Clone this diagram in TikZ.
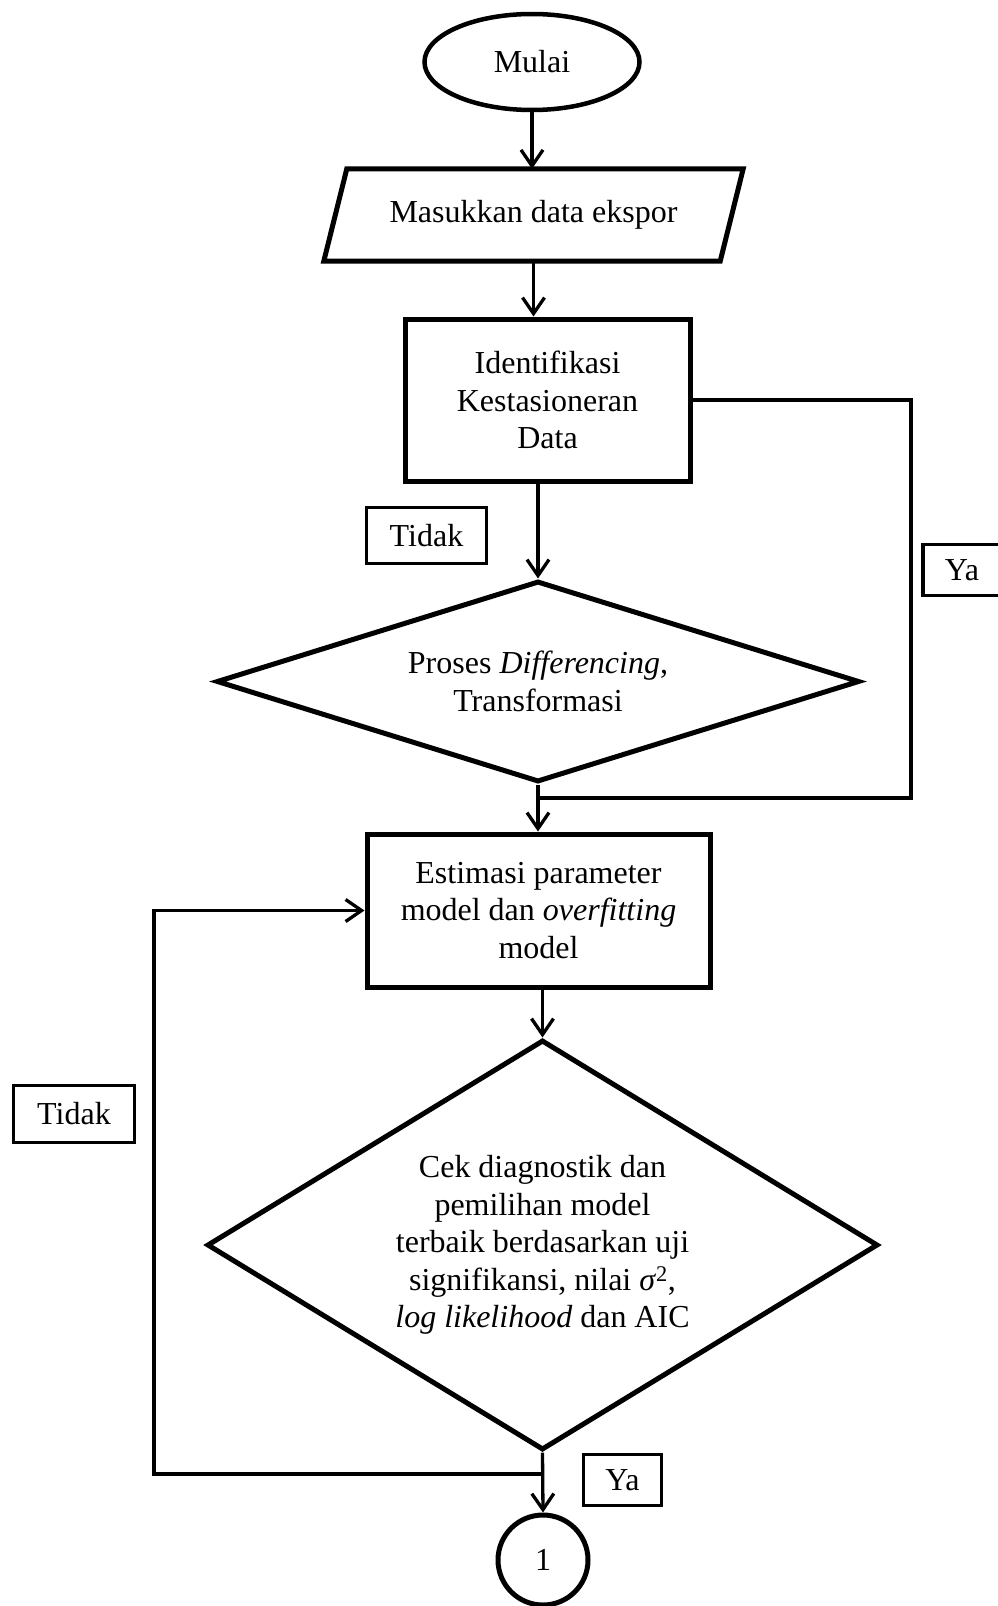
\documentclass[tikz,border=0pt]{standalone}
\usepackage{fontspec}
\setmainfont{Liberation Serif}
\usetikzlibrary{shapes.geometric,arrows.meta}
\begin{document}
\begin{tikzpicture}[x=1pt,y=-1pt,
  font=\fontsize{32}{37.5}\selectfont,
  box/.style={draw, line width=5pt, rectangle, inner sep=0pt, align=center},
  decision/.style={draw, line width=5pt, diamond, inner sep=0pt, align=center},
  tag/.style={draw, line width=3.3pt, rectangle, inner sep=0pt},
  conn/.style={line width=3.3pt},
  arr/.style={conn, -{Straight Barb[length=16pt,width=22pt]}},
]
\useasboundingbox (0,0) rectangle (997,1606);

\node[draw, ellipse, line width=4.5pt, minimum width=215pt, minimum height=96pt, inner sep=0pt] (start) at (532,62) {Mulai};

\node[minimum width=396pt, minimum height=92pt, inner sep=0pt] (input) at (533.5,215) {Masukkan data ekspor};
\draw[line width=5pt] ([xshift=11.5pt]input.north west) -- ([xshift=11.5pt]input.north east) -- ([xshift=-11.5pt]input.south east) -- ([xshift=-11.5pt]input.south west) -- cycle;

\node[box, minimum width=285pt, minimum height=162pt] (ident) at (547.5,400) {Identifikasi\\Kestasioneran\\Data};

\node[decision, aspect=3.2, minimum width=643pt, minimum height=201pt] (diff) at (538,681.5) {Proses \textit{Differencing},\\Transformasi};

\node[box, minimum width=343pt, minimum height=153pt] (est) at (538.5,910.5) {Estimasi parameter\\model dan \textit{overfitting}\\model};

\node[decision, aspect=1.64, minimum width=671pt, minimum height=410pt] (diag) at (542.5,1245) {Cek diagnostik dan\\pemilihan model\\terbaik berdasarkan uji\\signifikansi, nilai \textit{σ}\textsuperscript{2},\\\textit{log likelihood} dan AIC};

\node[draw, circle, line width=5pt, minimum size=90pt, inner sep=0pt] (end) at (543,1560) {1};

\node[tag, minimum width=120pt, minimum height=56pt] (tidak1) at (426.5,535.5) {Tidak};
\node[tag, minimum width=78pt, minimum height=51pt] (ya1) at (962,570) {Ya};
\node[tag, minimum width=78pt, minimum height=51pt] (ya2) at (622.5,1480) {Ya};
\node[tag, minimum width=121pt, minimum height=57pt] (tidak2) at (74,1114) {Tidak};

\coordinate (yaR) at (911,798);
\coordinate (loopB) at (543,1474);
\coordinate (loopL) at (154,1474);

\draw[arr] (start.south) -- (start.south |- input.north);
\draw[arr] (input.south) -- (input.south |- ident.north);
\draw[arr] (ident.south -| diff.north) -- (diff.north);
\draw[conn] (ident.east) -- (ident.east -| yaR) -- (yaR) -- (yaR -| diff.south);
\draw[arr] (diff.south) -- (diff.south |- est.north);
\draw[arr] (diag.north |- est.south) -- (diag.north);
\draw[arr] (diag.south) -- (end.north);
\draw[arr] (loopB) -- (loopL) |- (est.west);
\end{tikzpicture}
\end{document}
